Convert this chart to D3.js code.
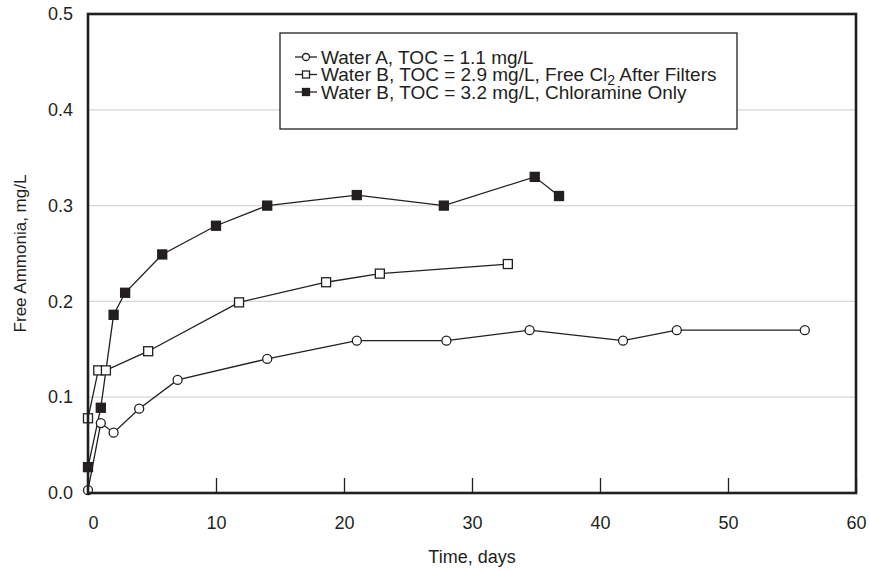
<!DOCTYPE html>
<html>
<head>
<meta charset="utf-8">
<script src="https://cdn.jsdelivr.net/npm/d3@7"></script>
<style>
  body { margin: 0; background: #fff; }
  svg text { font-family: "Liberation Sans", Arial, Helvetica, sans-serif; fill: #231f20; }
</style>
</head>
<body>
<div id="chart"></div>
<script>
// data (days, mg/L)
const waterADays = [0, 1, 2, 4, 7, 14, 21, 28, 34.5, 41.8, 46, 56];
const waterAVals = [0.003, 0.073, 0.063, 0.088, 0.118, 0.14, 0.159, 0.159, 0.17, 0.159, 0.17, 0.17];

const freeClDays = [0, 0.8, 1.4, 4.7, 11.8, 18.6, 22.8, 32.8];
const freeClVals = [0.078, 0.128, 0.128, 0.148, 0.199, 0.22, 0.229, 0.239];

const chloramineDays = [0, 1, 2, 2.9, 5.8, 10, 14, 21, 27.8, 34.9, 36.8];
const chloramineVals = [0.027, 0.089, 0.186, 0.209, 0.249, 0.279, 0.30, 0.311, 0.30, 0.33, 0.31];

const xTicks = [0, 10, 20, 30, 40, 50, 60];
const yTicks = [0, 0.1, 0.2, 0.3, 0.4, 0.5];

const legendLabels = [
    "Water A, TOC = 1.1 mg/L",
    "Water B, TOC = 2.9 mg/L, Free Cl|2| After Filters",
    "Water B, TOC = 3.2 mg/L, Chloramine Only"
];

const width = 870, height = 571;
const margin = {top: 14, right: 14, bottom: 78, left: 88};
const ink = "#231f20";

const svg = d3.select("#chart").append("svg")
    .attr("width", width)
    .attr("height", height);

const x = d3.scaleLinear().domain([0, 60]).range([margin.left, width - margin.right]);
const y = d3.scaleLinear().domain([0, 0.5]).range([height - margin.bottom, margin.top]);

// grid lines
svg.append("g")
    .selectAll("line")
    .data(yTicks.filter(d => d > 0 && d < 0.5))
    .join("line")
    .attr("x1", x(0)).attr("x2", x(60))
    .attr("y1", d => y(d)).attr("y2", d => y(d))
    .attr("stroke", "#d6d6d6")
    .attr("stroke-width", 1.2);

// x ticks, pointing inward
const xAxis = svg.append("g")
    .attr("transform", `translate(0,${y(0)})`)
    .call(d3.axisBottom(x).tickValues(xTicks).tickSize(-15).tickPadding(0).tickFormat(d3.format("d")));
xAxis.select(".domain").remove();
xAxis.selectAll(".tick line").attr("stroke", ink).attr("stroke-width", 1.3);
xAxis.selectAll(".tick text")
    .attr("y", 36)
    .attr("dy", 0)
    .attr("dx", d => d === 0 ? 5 : 0)
    .attr("font-size", 18);

const yAxis = svg.append("g")
    .attr("transform", `translate(${x(0)},0)`)
    .call(d3.axisLeft(y).tickValues(yTicks).tickSize(0).tickPadding(15).tickFormat(d3.format(".1f")));
yAxis.select(".domain").remove();
yAxis.selectAll(".tick text").attr("font-size", 18);

// legend box (white, covers the grid)
const lg = svg.append("g");
lg.append("rect")
    .attr("x", 280).attr("y", 33)
    .attr("width", 457).attr("height", 96)
    .attr("fill", "#fff")
    .attr("stroke", ink)
    .attr("stroke-width", 1.3);

const series = [
    {days: waterADays, vals: waterAVals, shape: "circle", fill: "#fff"},
    {days: freeClDays, vals: freeClVals, shape: "square", fill: "#fff"},
    {days: chloramineDays, vals: chloramineVals, shape: "square", fill: ink}
];

const line = d3.line().x(d => x(d[0])).y(d => y(d[1]));

function drawMarker(g, shape, fill, cx, cy, size) {
    if (shape === "circle") {
        g.append("circle")
            .attr("cx", cx).attr("cy", cy).attr("r", size / 2)
            .attr("fill", fill).attr("stroke", ink).attr("stroke-width", 1.3);
    } else {
        g.append("rect")
            .attr("x", cx - size / 2).attr("y", cy - size / 2)
            .attr("width", size).attr("height", size)
            .attr("fill", fill).attr("stroke", ink).attr("stroke-width", 1.3);
    }
}

const plot = svg.append("g");
series.forEach(s => {
    const pts = s.days.map((d, i) => [d, s.vals[i]]);
    plot.append("path")
        .attr("d", line(pts))
        .attr("fill", "none")
        .attr("stroke", ink)
        .attr("stroke-width", 1.3);
});
series.forEach(s => {
    const g = plot.append("g");
    s.days.forEach((d, i) => drawMarker(g, s.shape, s.fill, x(d), y(s.vals[i]), 9));
});

// legend rows
const rowY = [57, 74.5, 92];
series.forEach((s, i) => {
    lg.append("line")
        .attr("x1", 295).attr("x2", 317)
        .attr("y1", rowY[i]).attr("y2", rowY[i])
        .attr("stroke", ink).attr("stroke-width", 1.3);
    drawMarker(lg, s.shape, s.fill, 306, rowY[i], 7);
    const t = lg.append("text")
        .attr("x", 321).attr("y", rowY[i])
        .attr("dy", "0.36em")
        .attr("font-size", 19);
    legendLabels[i].split("|").forEach((part, k) => {
        const span = t.append("tspan").text(part);
        if (k === 1) span.attr("font-size", 14).attr("dy", 4);
        if (k === 2) span.attr("dy", -4);
    });
});

// frame
svg.append("rect")
    .attr("x", x(0)).attr("y", y(0.5))
    .attr("width", x(60) - x(0)).attr("height", y(0) - y(0.5))
    .attr("fill", "none")
    .attr("stroke", ink)
    .attr("stroke-width", 2.6);

// axis titles
svg.append("text")
    .attr("x", (x(0) + x(60)) / 2).attr("y", 563)
    .attr("text-anchor", "middle")
    .attr("font-size", 18)
    .text("Time, days");

svg.append("text")
    .attr("transform", `translate(26,${(y(0) + y(0.5)) / 2}) rotate(-90)`)
    .attr("text-anchor", "middle")
    .attr("font-size", 17)
    .text("Free Ammonia, mg/L");
</script>
</body>
</html>
